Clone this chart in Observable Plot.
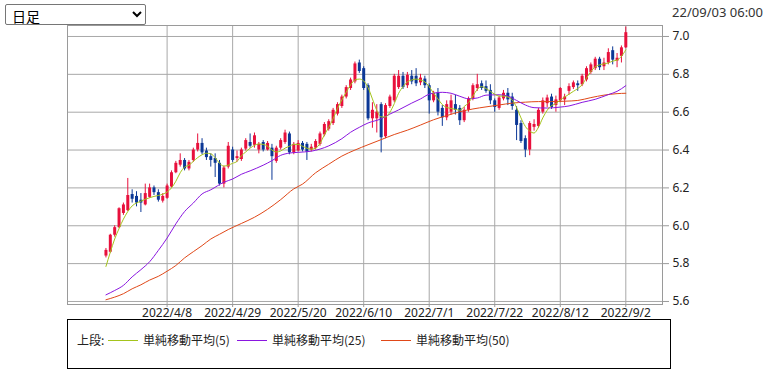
<!DOCTYPE html>
<html>
<head>
<meta charset="utf-8">
<script src="https://cdn.jsdelivr.net/npm/d3@7"></script>
<script src="https://cdn.jsdelivr.net/npm/@observablehq/plot@0.6"></script>
<style>
  html, body { margin: 0; padding: 0; background: #fff; }
  body { width: 768px; height: 377px; position: relative; overflow: hidden; font-family: "Noto Sans", "Noto Sans CJK JP", sans-serif; }
  #sel { position: absolute; left: 5px; top: 4px; width: 141px; height: 21px; font-size: 14px; font-family: "Noto Sans CJK JP", sans-serif; margin: 0; padding: 0 2px; border: 1px solid #767676; border-radius: 2px; background: #fff; color: #000; }
  #stamp { position: absolute; right: 5px; top: 3px; font-size: 13px; color: #333; font-family: "Noto Sans", sans-serif; }
  #chart { position: absolute; left: 0; top: 0; }
  #legend { position: absolute; left: 67px; top: 319px; width: 604px; height: 50px; border: 1px solid #000; box-sizing: border-box; }
  .lg { position: absolute; top: 12px; font-size: 12px; line-height: 16px; color: #222; font-family: "Noto Sans CJK JP", sans-serif; white-space: nowrap; }
  .ln { position: absolute; top: 20px; height: 1px; width: 30px; }
</style>
</head>
<body>
<select id="sel"><option>日足</option></select>
<div id="stamp">22/09/03 06:00</div>
<div id="chart"></div>
<div id="legend"></div>
<script>
// ---- data ----
const xTickIdx = [14, 29, 44, 59, 74, 89, 104, 119];
const xTickLabels = ["2022/4/8", "2022/4/29", "2022/5/20", "2022/6/10", "2022/7/1", "2022/7/22", "2022/8/12", "2022/9/2"];
const yTicks = [5.6, 5.8, 6.0, 6.2, 6.4, 6.6, 6.8, 7.0];

const open = [5.84,5.86,5.95,5.99,6.065,6.08,6.165,6.155,6.135,6.11, 6.15,6.20,6.175,6.13,6.145,6.205,6.28,6.32,6.345,6.30,
  6.345,6.40,6.435,6.395,6.365,6.355,6.33,6.22,6.31,6.40, 6.355,6.35,6.405,6.44,6.425,6.40,6.44,6.40,6.41,6.34,
  6.41,6.44,6.485,6.385,6.395,6.435,6.43,6.40,6.41,6.43, 6.48,6.51,6.54,6.59,6.63,6.68,6.725,6.76,6.86,6.83,
  6.74,6.565,6.565,6.64,6.47,6.63,6.66,6.73,6.79,6.74, 6.79,6.79,6.755,6.775,6.74,6.66,6.70,6.62,6.57,6.60,
  6.64,6.62,6.555,6.61,6.67,6.725,6.75,6.735,6.715,6.66, 6.62,6.67,6.70,6.68,6.61,6.54,6.46,6.40,6.52,6.525,
  6.60,6.645,6.68,6.635,6.66,6.665,6.71,6.73,6.75,6.745, 6.77,6.81,6.83,6.88,6.84,6.86,6.925,6.87,6.895,6.94];
const close = [5.87,5.95,5.99,6.09,6.11,6.16,6.14,6.12,6.12,6.17, 6.20,6.175,6.135,6.155,6.21,6.28,6.33,6.345,6.30,6.335,
  6.40,6.435,6.385,6.36,6.345,6.33,6.22,6.305,6.42,6.345, 6.365,6.40,6.45,6.42,6.475,6.43,6.40,6.435,6.365,6.41,
  6.45,6.49,6.385,6.43,6.435,6.40,6.39,6.415,6.445,6.485, 6.535,6.55,6.61,6.64,6.68,6.73,6.77,6.855,6.815,6.725,
  6.565,6.61,6.60,6.465,6.635,6.68,6.79,6.79,6.73,6.795, 6.76,6.75,6.78,6.74,6.66,6.70,6.60,6.57,6.64,6.66,
  6.61,6.555,6.61,6.67,6.74,6.745,6.725,6.71,6.66,6.625, 6.675,6.70,6.665,6.63,6.53,6.445,6.40,6.54,6.535,6.61,
  6.66,6.675,6.625,6.665,6.725,6.68,6.735,6.755,6.74,6.79, 6.83,6.85,6.88,6.835,6.86,6.915,6.875,6.885,6.94,7.02];
const high = [5.88,5.955,6.0,6.095,6.12,6.25,6.19,6.18,6.17,6.22, 6.22,6.21,6.19,6.17,6.22,6.29,6.34,6.38,6.355,6.345,
  6.41,6.485,6.46,6.41,6.38,6.38,6.345,6.315,6.44,6.415, 6.395,6.41,6.46,6.485,6.49,6.44,6.45,6.445,6.43,6.42,
  6.46,6.505,6.495,6.44,6.45,6.445,6.44,6.43,6.455,6.495, 6.545,6.56,6.62,6.65,6.69,6.74,6.78,6.865,6.875,6.84,
  6.75,6.65,6.64,6.65,6.645,6.69,6.80,6.82,6.81,6.81, 6.82,6.83,6.80,6.79,6.75,6.71,6.725,6.635,6.66,6.69,
  6.69,6.635,6.625,6.68,6.75,6.80,6.765,6.765,6.745,6.67, 6.685,6.715,6.725,6.70,6.63,6.555,6.475,6.55,6.56,6.62,
  6.675,6.69,6.695,6.685,6.73,6.695,6.75,6.765,6.765,6.80, 6.84,6.86,6.89,6.89,6.885,6.935,6.945,6.91,6.95,7.05];
const low = [5.83,5.855,5.94,5.985,6.055,6.075,6.12,6.10,6.07,6.105, 6.145,6.16,6.125,6.12,6.14,6.20,6.275,6.31,6.29,6.29,
  6.335,6.39,6.375,6.345,6.31,6.255,6.21,6.20,6.30,6.335, 6.335,6.34,6.395,6.41,6.41,6.38,6.39,6.395,6.24,6.33,
  6.40,6.43,6.375,6.375,6.39,6.39,6.345,6.39,6.40,6.42, 6.47,6.50,6.53,6.58,6.62,6.67,6.715,6.75,6.805,6.715,
  6.555,6.515,6.49,6.385,6.46,6.62,6.65,6.72,6.72,6.725, 6.745,6.735,6.74,6.725,6.59,6.65,6.58,6.525,6.555,6.585,
  6.585,6.53,6.545,6.60,6.66,6.71,6.715,6.70,6.64,6.60, 6.61,6.66,6.635,6.61,6.45,6.435,6.36,6.37,6.50,6.515,
  6.59,6.625,6.615,6.60,6.65,6.635,6.69,6.72,6.71,6.735, 6.76,6.80,6.82,6.82,6.82,6.85,6.85,6.835,6.86,6.935];

const ma5 = [5.785,5.86,5.93,5.985,6.035,6.075,6.105,6.12,6.13,6.14, 6.148,6.155,6.16,6.167,6.178,6.20,6.235,6.28,6.31,6.32,
  6.34,6.36,6.375,6.383,6.38,6.36,6.33,6.315,6.32,6.33, 6.34,6.37,6.39,6.41,6.425,6.432,6.43,6.42,6.40,6.39,
  6.395,6.41,6.42,6.43,6.43,6.42,6.41,6.405,6.41,6.435, 6.48,6.52,6.565,6.62,6.665,6.705,6.745,6.77,6.775,6.765,
  6.73,6.67,6.61,6.575,6.575,6.60,6.645,6.70,6.735,6.76, 6.77,6.775,6.77,6.76,6.735,6.70,6.67,6.64,6.625,6.62,
  6.615,6.61,6.63,6.65,6.685,6.72,6.735,6.725,6.71,6.695, 6.685,6.685,6.68,6.665,6.625,6.57,6.525,6.50,6.49,6.52,
  6.57,6.61,6.635,6.645,6.665,6.68,6.695,6.71,6.725,6.745, 6.78,6.815,6.84,6.85,6.855,6.86,6.87,6.875,6.895,6.93];

const ma25Idx = [0,2,4,6,8,10,12,14,16,18,20,22,24,27,29,31,33,36,38,40,42,44,47,49,51,54,56,58,60,63,65,67,70,72,74,77,79,81,83,85,87,90,92,94,96,98,101,104,106,109,112,115,117,119];
const ma25Val = [5.635,5.658,5.685,5.73,5.768,5.81,5.87,5.935,6.01,6.075,6.12,6.168,6.19,6.23,6.247,6.272,6.29,6.32,6.344,6.372,6.384,6.388,6.394,6.405,6.422,6.46,6.494,6.52,6.543,6.565,6.59,6.612,6.648,6.67,6.695,6.705,6.70,6.684,6.671,6.675,6.69,6.692,6.685,6.662,6.638,6.624,6.622,6.627,6.633,6.652,6.668,6.693,6.71,6.74];

const ma50Idx = [0,2,4,6,8,10,12,14,16,18,20,22,24,26,28,31,34,37,40,43,45,48,51,54,57,60,63,66,69,72,75,78,81,84,87,90,93,96,99,102,105,108,111,114,117,119];
const ma50Val = [5.609,5.623,5.641,5.667,5.688,5.713,5.733,5.76,5.79,5.83,5.863,5.895,5.93,5.955,5.98,6.012,6.045,6.087,6.138,6.195,6.22,6.28,6.325,6.368,6.40,6.428,6.455,6.482,6.505,6.532,6.56,6.582,6.602,6.617,6.628,6.638,6.648,6.653,6.656,6.656,6.658,6.662,6.677,6.69,6.698,6.70];

const seriesNames = ["単純移動平均(5)", "単純移動平均(25)", "単純移動平均(50)"];
const seriesColors = ["#a4c41c", "#8a16e0", "#e04818"];
const UP = "#e8103c", DOWN = "#0c3896";

// ---- build ----
const candles = open.map((o, i) => ({i, o, c: close[i], h: high[i], l: low[i], col: close[i] >= o ? UP : DOWN}));
const ma5Data = ma5.map((v, i) => ({i, v}));
const ma25Data = ma25Idx.map((i, k) => ({i, v: ma25Val[k]}));
const ma50Data = ma50Idx.map((i, k) => ({i, v: ma50Val[k]}));

const chart = Plot.plot({
  width: 768,
  height: 322,
  marginLeft: 67,
  marginRight: 106,
  marginTop: 25,
  marginBottom: 18,
  style: {fontSize: "12px", fontFamily: "'Noto Sans', sans-serif", background: "transparent", color: "#222"},
  x: {type: "linear", domain: [-8.8, 127.4]},
  y: {type: "linear", domain: [5.584, 7.058]},
  marks: [
    Plot.ruleY(yTicks, {stroke: "#a8a8a8"}),
    Plot.ruleX(xTickIdx, {stroke: "#a8a8a8"}),
    Plot.frame({stroke: "#9a9a9a"}),
    Plot.axisY(yTicks, {anchor: "right", tickSize: 6, tickPadding: 4, tickFormat: d => d.toFixed(1), stroke: "#9a9a9a", fill: "#222", label: null}),
    Plot.axisX(xTickIdx, {anchor: "bottom", tickSize: 3, tickPadding: 1, tickFormat: d => xTickLabels[xTickIdx.indexOf(d)], stroke: "#9a9a9a", fill: "#222", label: null}),
    Plot.ruleX(candles, {x: "i", y1: "l", y2: "h", stroke: "col", strokeWidth: 1}),
    Plot.ruleX(candles, {x: "i", y1: "o", y2: d => (Math.abs(d.c - d.o) < 0.003 ? d.o + 0.004 : d.c), stroke: "col", strokeWidth: 3}),
    Plot.line(ma50Data, {x: "i", y: "v", stroke: seriesColors[2], strokeWidth: 1, curve: "monotone-x"}),
    Plot.line(ma25Data, {x: "i", y: "v", stroke: seriesColors[1], strokeWidth: 1, curve: "monotone-x"}),
    Plot.line(ma5Data, {x: "i", y: "v", stroke: seriesColors[0], strokeWidth: 1, curve: "monotone-x"})
  ]
});
document.getElementById("chart").appendChild(chart);

// legend
const lg = document.getElementById("legend");
const head = document.createElement("div");
head.className = "lg"; head.style.left = "9px"; head.textContent = "上段:";
lg.appendChild(head);
const lineX = [40, 169, 313];
const textX = [75, 204, 348];
seriesNames.forEach((name, k) => {
  const ln = document.createElement("div");
  ln.className = "ln"; ln.style.left = lineX[k] + "px"; ln.style.background = seriesColors[k];
  lg.appendChild(ln);
  const t = document.createElement("div");
  t.className = "lg"; t.style.left = textX[k] + "px"; t.textContent = name;
  lg.appendChild(t);
});
</script>
</body>
</html>
